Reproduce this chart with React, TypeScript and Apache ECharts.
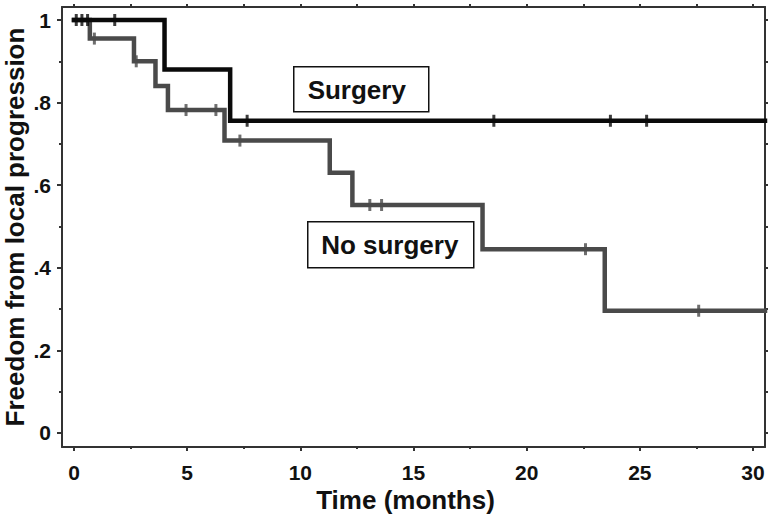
import React, { useEffect, useRef } from "react";
import * as echarts from "echarts";

// Kaplan–Meier step data (time in months, survival proportion after event)
const surgeryTimes = [0, 4.0, 6.9, 30.53];
const surgeryValues = [1, 0.88, 0.756, 0.756];
const surgeryCensorTimes = [0.1, 0.35, 0.6, 1.8, 7.65, 18.55, 23.7, 25.3];
const surgeryCensorValues = [1, 1, 1, 1, 0.756, 0.756, 0.756, 0.756];

const noSurgeryTimes = [0, 0.7, 2.65, 3.6, 4.15, 6.65, 11.3, 12.3, 18.05, 23.45, 30.53];
const noSurgeryValues = [1, 0.955, 0.9, 0.84, 0.782, 0.708, 0.63, 0.552, 0.445, 0.296, 0.296];
const noSurgeryCensorTimes = [0.9, 2.75, 4.95, 6.27, 7.33, 13.07, 13.59, 22.6, 27.6];
const noSurgeryCensorValues = [0.955, 0.9, 0.782, 0.782, 0.708, 0.552, 0.552, 0.445, 0.296];

const xMajorTicks = [0, 5, 10, 15, 20, 25, 30];
const xMinorTicks = [2.5, 7.5, 12.5, 17.5, 22.5, 27.5];
const yMajorTicks = [0, 0.2, 0.4, 0.6, 0.8, 1];
const yTickLabels = ["0", ".2", ".4", ".6", ".8", "1"];
const yMinorTicks = [0.1, 0.3, 0.5, 0.7, 0.9];

const xTitle = "Time (months)";
const yTitle = "Freedom from local progression";
const surgeryLabel = "Surgery";
const noSurgeryLabel = "No surgery";

const FONT = "'Liberation Sans', Arial, Helvetica, sans-serif";
const AXIS_COLOR = "#333";
const BLACK = "#0a0a0a";
const GRAY = "#4a4a4a";

export default function App() {
  const ref = useRef<HTMLDivElement>(null);

  useEffect(() => {
    if (!ref.current) return;
    const chart = echarts.init(ref.current, undefined, { renderer: "svg" });
    const xMin = -0.53;
    const xMax = 30.53;
    const yMin = -0.034;
    const yMax = 1.0315;
    const allXTicks = [...xMajorTicks, ...xMinorTicks].sort((a, b) => a - b);
    const allYTicks = [...yMajorTicks, ...yMinorTicks].sort((a, b) => a - b);
    const lineStyle = { color: AXIS_COLOR, width: 2 };

    const option: any = {
      animation: false,
      backgroundColor: "#fff",
      grid: { left: 62, right: 7, top: 7, bottom: 72, containLabel: false, outerBoundsMode: "none" },
      xAxis: [
        {
          type: "value",
          position: "bottom",
          min: xMin,
          max: xMax,
          axisLine: { show: true, onZero: false, lineStyle },
          axisTick: { show: true, customValues: xMajorTicks, length: 4, lineStyle },
          axisLabel: {
            customValues: xMajorTicks,
            fontSize: 21,
            fontWeight: "bold",
            fontFamily: FONT,
            color: "#111",
            margin: 15,
          },
          splitLine: { show: false },
          name: xTitle,
          nameLocation: "middle",
          nameGap: 40,
          nameMoveOverlap: false,
          nameTextStyle: {
            fontSize: 26,
            fontWeight: "bold",
            fontFamily: FONT,
            color: "#111",
            padding: [0, 16, 0, 0],
          },
        },
        {
          type: "value",
          position: "bottom",
          min: xMin,
          max: xMax,
          axisLine: { show: false, onZero: false },
          axisTick: { show: true, customValues: xMinorTicks, length: 2, lineStyle },
          axisLabel: { show: false },
          splitLine: { show: false },
        },
        {
          type: "value",
          position: "top",
          min: xMin,
          max: xMax,
          axisLine: { show: true, onZero: false, lineStyle },
          axisTick: { show: true, customValues: allXTicks, length: 3, lineStyle },
          axisLabel: { show: false },
          splitLine: { show: false },
        },
      ],
      yAxis: [
        {
          type: "value",
          position: "left",
          min: yMin,
          max: yMax,
          axisLine: { show: true, onZero: false, lineStyle },
          axisTick: { show: true, customValues: yMajorTicks, length: 5, lineStyle },
          axisLabel: {
            customValues: yMajorTicks,
            formatter: (v: number) => {
              const i = yMajorTicks.findIndex((t) => Math.abs(t - v) < 1e-6);
              return i >= 0 ? yTickLabels[i] : "";
            },
            fontSize: 21,
            fontWeight: "bold",
            fontFamily: FONT,
            color: "#111",
            margin: 11,
          },
          splitLine: { show: false },
          name: yTitle,
          nameLocation: "middle",
          nameGap: 34,
          nameMoveOverlap: false,
          nameTextStyle: { fontSize: 26, fontWeight: "bold", fontFamily: FONT, color: "#111" },
        },
        {
          type: "value",
          position: "left",
          min: yMin,
          max: yMax,
          axisLine: { show: false, onZero: false },
          axisTick: { show: true, customValues: yMinorTicks, length: 3, lineStyle },
          axisLabel: { show: false },
          splitLine: { show: false },
        },
        {
          type: "value",
          position: "right",
          min: yMin,
          max: yMax,
          axisLine: { show: true, onZero: false, lineStyle },
          axisTick: { show: true, customValues: allYTicks, length: 3, lineStyle },
          axisLabel: { show: false },
          splitLine: { show: false },
        },
      ],
      series: [
        {
          type: "line",
          step: "end",
          xAxisIndex: 0,
          yAxisIndex: 0,
          symbol: "none",
          z: 2,
          lineStyle: { color: GRAY, width: 4.5, cap: "square", join: "miter" },
          data: noSurgeryTimes.map((t, i) => [t, noSurgeryValues[i]]),
        },
        {
          type: "scatter",
          xAxisIndex: 0,
          yAxisIndex: 0,
          symbol: "rect",
          symbolSize: [3, 12],
          z: 3,
          itemStyle: { color: GRAY },
          data: noSurgeryCensorTimes.map((t, i) => [t, noSurgeryCensorValues[i]]),
        },
        {
          type: "line",
          step: "end",
          xAxisIndex: 0,
          yAxisIndex: 0,
          symbol: "none",
          z: 4,
          lineStyle: { color: BLACK, width: 4.5, cap: "square", join: "miter" },
          data: surgeryTimes.map((t, i) => [t, surgeryValues[i]]),
        },
        {
          type: "scatter",
          xAxisIndex: 0,
          yAxisIndex: 0,
          symbol: "rect",
          symbolSize: [3, 12],
          z: 5,
          itemStyle: { color: BLACK },
          data: surgeryCensorTimes.map((t, i) => [t, surgeryCensorValues[i]]),
        },
      ],
      graphic: [
        {
          type: "group",
          left: 293,
          top: 66,
          children: [
            {
              type: "rect",
              shape: { x: 0, y: 0, width: 135, height: 45 },
              style: { fill: "#fff", stroke: "#111", lineWidth: 1.5 },
            },
            {
              type: "text",
              x: 63,
              y: 23,
              style: {
                text: surgeryLabel,
                align: "center",
                verticalAlign: "middle",
                fontSize: 26,
                fontWeight: "bold",
                fontFamily: FONT,
                fill: "#111",
              },
            },
          ],
        },
        {
          type: "group",
          left: 307,
          top: 221,
          children: [
            {
              type: "rect",
              shape: { x: 0, y: 0, width: 166, height: 46 },
              style: { fill: "#fff", stroke: "#111", lineWidth: 1.5 },
            },
            {
              type: "text",
              x: 82,
              y: 23,
              style: {
                text: noSurgeryLabel,
                align: "center",
                verticalAlign: "middle",
                fontSize: 26,
                fontWeight: "bold",
                fontFamily: FONT,
                fill: "#111",
              },
            },
          ],
        },
      ],
    };

    chart.setOption(option);
    return () => chart.dispose();
  }, []);

  return (
    <div
      ref={ref}
      style={{ position: "fixed", left: 0, top: 0, width: 772, height: 519, background: "#fff" }}
    />
  );
}
